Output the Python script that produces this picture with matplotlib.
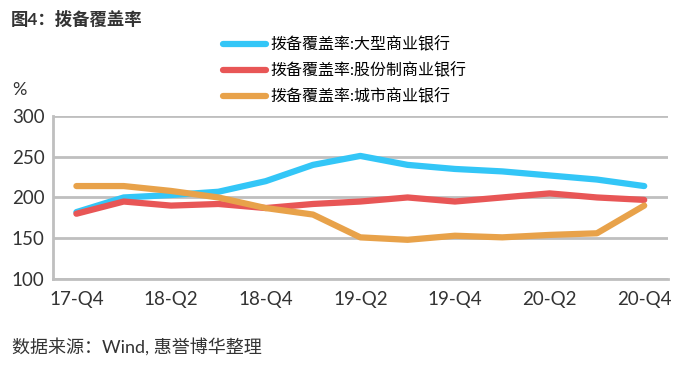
import matplotlib
matplotlib.use("Agg")
import matplotlib.pyplot as plt

plt.rcParams['font.family'] = ['Lato', 'Noto Sans CJK SC', 'DejaVu Sans']

quarters = ['17-Q4', '18-Q1', '18-Q2', '18-Q3', '18-Q4', '19-Q1', '19-Q2',
            '19-Q3', '19-Q4', '20-Q1', '20-Q2', '20-Q3', '20-Q4']

large_banks = [182, 200, 203, 207, 220, 240, 251, 240, 235, 232, 227, 222, 214]
joint_stock = [180, 195, 190, 192, 187, 192, 195, 200, 195, 200, 205, 200, 197]
city_banks = [214, 214, 208, 200, 187, 179, 151, 148, 153, 151, 154, 156, 190]

labels = ['拨备覆盖率:大型商业银行', '拨备覆盖率:股份制商业银行', '拨备覆盖率:城市商业银行']
colors = ['#33C6F7', '#E85656', '#E8A24A']

fig = plt.figure(figsize=(6.85, 3.66), dpi=100)
ax = fig.add_axes([0.077, 0.238, 0.898, 0.445])

x = range(len(quarters))
for vals, lab, col in zip([large_banks, joint_stock, city_banks], labels, colors):
    ax.plot(x, vals, color=col, linewidth=4.5, label=lab, solid_capstyle='round')

ax.set_xlim(-0.5, 12.5)
ax.set_ylim(100, 300)
ax.set_yticks([100, 150, 200, 250, 300])
ax.set_xticks(range(0, 13, 2))
ax.set_xticklabels(quarters[::2])

ax.grid(axis='y', color='#BFBFBF', linewidth=2)
ax.set_axisbelow(True)
for s in ['top', 'right']:
    ax.spines[s].set_visible(False)
for s in ['left', 'bottom']:
    ax.spines[s].set_color('#BFBFBF')
    ax.spines[s].set_linewidth(2)
ax.tick_params(axis='both', length=0, labelsize=13.5, colors='#333333')
ax.tick_params(axis='y', pad=6)
ax.tick_params(axis='x', pad=9)

fig.text(0.015, 0.948, '图4：拨备覆盖率', fontsize=12.5, fontweight='bold',
         color='#333333', va='center')
fig.text(0.018, 0.755, '%', fontsize=13, color='#333333', va='center')
fig.text(0.018, 0.052, '数据来源：Wind, 惠誉博华整理', fontsize=13,
         color='#333333', va='center')

fig.legend(loc='upper left', bbox_to_anchor=(0.326, 0.899), frameon=False,
           fontsize=11.5, handlelength=2.65, handletextpad=0.3, labelspacing=0.65,
           borderaxespad=0, borderpad=0)

fig.savefig('out.png', dpi=100)
